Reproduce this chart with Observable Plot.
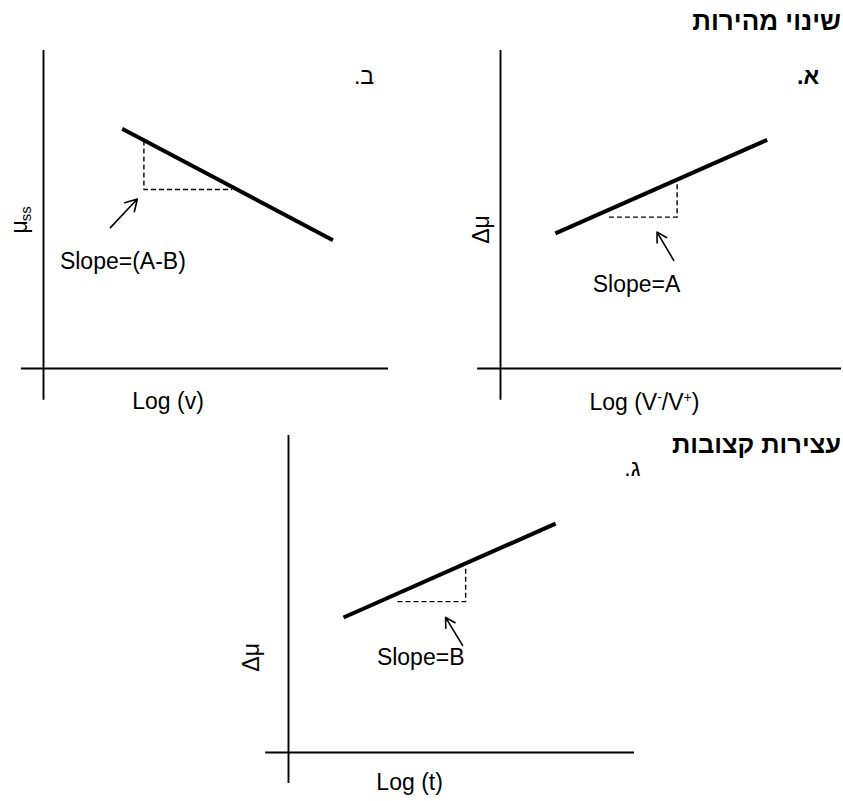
<!DOCTYPE html>
<html lang="he">
<head>
<meta charset="utf-8">
<script src="https://cdn.jsdelivr.net/npm/d3@7"></script>
<script src="https://cdn.jsdelivr.net/npm/@observablehq/plot@0.6"></script>
<style>
  body { margin: 0; background: #fff; }
  #page { position: relative; width: 843px; height: 801px; overflow: hidden;
          font-family: "Liberation Sans", Arial, Helvetica, sans-serif; color: #000; }
  .heading { position: absolute; right: 2px; font-weight: bold; font-size: 26px;
             line-height: 1; white-space: nowrap; }
  .panel { position: absolute; }
</style>
</head>
<body>
<div id="page">
  <div class="heading" dir="rtl" style="top:8px">שינוי מהירות</div>
  <div class="heading" dir="rtl" style="top:432px; font-size:25.5px">עצירות קצובות</div>
</div>
<script>
const FONT = "'Liberation Sans', Arial, Helvetica, sans-serif";

// Panel ב: steady-state friction against log sliding velocity (slope A-B)
const velLineX = [2.28, 8.39];
const velLineY = [7.54, 4.03];
const velTriX = [2.91, 2.91, 5.47];
const velTriY = [7.17, 5.63, 5.63];
const velArrowFrom = [1.94, 4.43];
const velArrowTo = [2.72, 5.33];

// Panel א: friction step against log velocity ratio (slope A)
const stepLineX = [1.61, 7.82];
const stepLineY = [4.25, 7.19];
const stepTriX = [3.18, 5.18, 5.18];
const stepTriY = [4.76, 4.76, 5.86];
const stepArrowFrom = [5.08, 3.40];
const stepArrowTo = [4.59, 4.29];

// Panel ג: hold tests, friction gain against log hold time (slope B)
const holdLineX = [1.59, 7.72];
const holdLineY = [4.26, 7.22];
const holdTriX = [3.15, 5.12, 5.12];
const holdTriY = [4.76, 4.76, 5.84];
const holdArrowFrom = [5.03, 3.38];
const holdArrowTo = [4.54, 4.26];

// Texts
const panelLetters = ["ב.", "א.", "ג."];
const slopeTexts = ["Slope=(A-B)", "Slope=A", "Slope=B"];
const xTitles = ["Log (v)", "Log (V-/V+)", "Log (t)"];
const yTitles = ["\u03BC", "\u0394\u03BC", "\u0394\u03BC"];
const ySubscripts = ["ss", "", ""];

const pts = (xs, ys) => xs.map((x, i) => ({x, y: ys[i]}));

const panels = [
  {
    box: {left: 0, top: 40, width: 420, height: 380},
    xRange: [43, 388], yRange: [328, 10], axisStart: [-0.64, -1.0],
    line: pts(velLineX, velLineY), tri: pts(velTriX, velTriY),
    arrow: {x1: velArrowFrom[0], y1: velArrowFrom[1], x2: velArrowTo[0], y2: velArrowTo[1]},
    letter: {x: 9.29, y: 9.19, text: panelLetters[0], weight: "normal"},
    slope: {x: 2.30, y: 3.36, text: slopeTexts[0]},
    xTitle: {x: 3.61, y: -1.04, text: xTitles[0]},
    yTitle: {x: -0.70, y: 4.45, text: yTitles[0]},
    ySub: {x: -0.49, y: 4.87, text: ySubscripts[0]}
  },
  {
    box: {left: 440, top: 40, width: 403, height: 380},
    xRange: [60, 401], yRange: [328, 10], axisStart: [-0.67, -1.0],
    line: pts(stepLineX, stepLineY), tri: pts(stepTriX, stepTriY),
    arrow: {x1: stepArrowFrom[0], y1: stepArrowFrom[1], x2: stepArrowTo[0], y2: stepArrowTo[1]},
    letter: {x: 9.02, y: 9.19, text: panelLetters[1], weight: "bold"},
    slope: {x: 3.99, y: 2.64, text: slopeTexts[1]},
    xTitle: {x: 4.22, y: -1.07, text: xTitles[1]},
    yTitle: {x: -0.56, y: 4.37, text: yTitles[1]},
    ySub: null
  },
  {
    box: {left: 230, top: 420, width: 440, height: 381},
    xRange: [58, 404], yRange: [332, 15], axisStart: [-0.66, -0.98],
    line: pts(holdLineX, holdLineY), tri: pts(holdTriX, holdTriY),
    arrow: {x1: holdArrowFrom[0], y1: holdArrowFrom[1], x2: holdArrowTo[0], y2: holdArrowTo[1]},
    letter: {x: 9.94, y: 8.97, text: panelLetters[2], weight: "normal"},
    slope: {x: 3.82, y: 3.00, text: slopeTexts[2]},
    xTitle: {x: 3.50, y: -0.95, text: xTitles[2]},
    yTitle: {x: -1.08, y: 3.00, text: yTitles[2]},
    ySub: null
  }
];

// Rewrites "V-" / "V+" in an axis title as raised, smaller signs.
function superscriptSigns(svg) {
  const ns = "http://www.w3.org/2000/svg";
  const rise = 8;
  svg.querySelectorAll("text").forEach(t => {
    const s = t.textContent;
    if (!/V[-+]/.test(s)) return;
    const parts = s.split(/(?<=V)([-+])/);
    t.textContent = "";
    for (const part of parts) {
      if (!part) continue;
      const isSign = part === "-" || part === "+";
      const span = document.createElementNS(ns, "tspan");
      if (isSign) {
        span.setAttribute("dy", -rise);
        span.setAttribute("font-size", "14");
        span.textContent = part;
        t.appendChild(span);
        // drop back to the baseline for the text that follows
        const back = document.createElementNS(ns, "tspan");
        back.setAttribute("dy", rise);
        back.textContent = "";
        span.dataset.sign = "1";
      } else {
        const prev = t.lastChild;
        if (prev && prev.dataset && prev.dataset.sign) span.setAttribute("dy", rise);
        span.textContent = part;
        t.appendChild(span);
      }
    }
  });
}

const page = document.getElementById("page");

for (const p of panels) {
  const marks = [
    // axes through the origin, drawn slightly past it
    Plot.ruleX([0], {y1: p.axisStart[1], y2: 10, stroke: "#000", strokeWidth: 1.9}),
    Plot.ruleY([0], {x1: p.axisStart[0], x2: 10, stroke: "#000", strokeWidth: 1.9}),
    // slope triangle
    Plot.line(p.tri, {x: "x", y: "y", stroke: "#000", strokeWidth: 1.4, strokeDasharray: "5,3", strokeLinecap: "butt"}),
    // fitted trend
    Plot.line(p.line, {x: "x", y: "y", stroke: "#000", strokeWidth: 4, strokeLinecap: "butt"}),
    // pointer to the slope triangle
    Plot.arrow([p.arrow], {x1: "x1", y1: "y1", x2: "x2", y2: "y2", stroke: "#000",
      strokeWidth: 1.6, headLength: 15, headAngle: 60}),
    Plot.text([p.slope], {x: "x", y: "y", text: "text", fontSize: 23, fill: "#000"}),
    Plot.text([p.xTitle], {x: "x", y: "y", text: "text", fontSize: 23, fill: "#000"}),
    Plot.text([p.yTitle], {x: "x", y: "y", text: "text", fontSize: 23, rotate: -90, fill: "#000"}),
    // panel letter, kept right-to-left so the period sits on the left
    Plot.text([p.letter], {x: "x", y: "y", text: d => d.text + "\u200F", fontSize: 23,
      fontWeight: p.letter.weight, fill: "#000"})
  ];
  if (p.ySub && p.ySub.text) {
    marks.push(Plot.text([p.ySub], {x: "x", y: "y", text: "text", fontSize: 15, rotate: -90, fill: "#000"}));
  }
  const svg = Plot.plot({
    width: p.box.width,
    height: p.box.height,
    margin: 0,
    x: {domain: [0, 10], range: p.xRange, axis: null},
    y: {domain: [0, 10], range: p.yRange, axis: null},
    style: {background: "transparent", overflow: "visible", fontFamily: FONT, color: "#000"},
    marks
  });
  superscriptSigns(svg);
  svg.classList.add("panel");
  svg.style.left = p.box.left + "px";
  svg.style.top = p.box.top + "px";
  page.appendChild(svg);
}
</script>
</body>
</html>
